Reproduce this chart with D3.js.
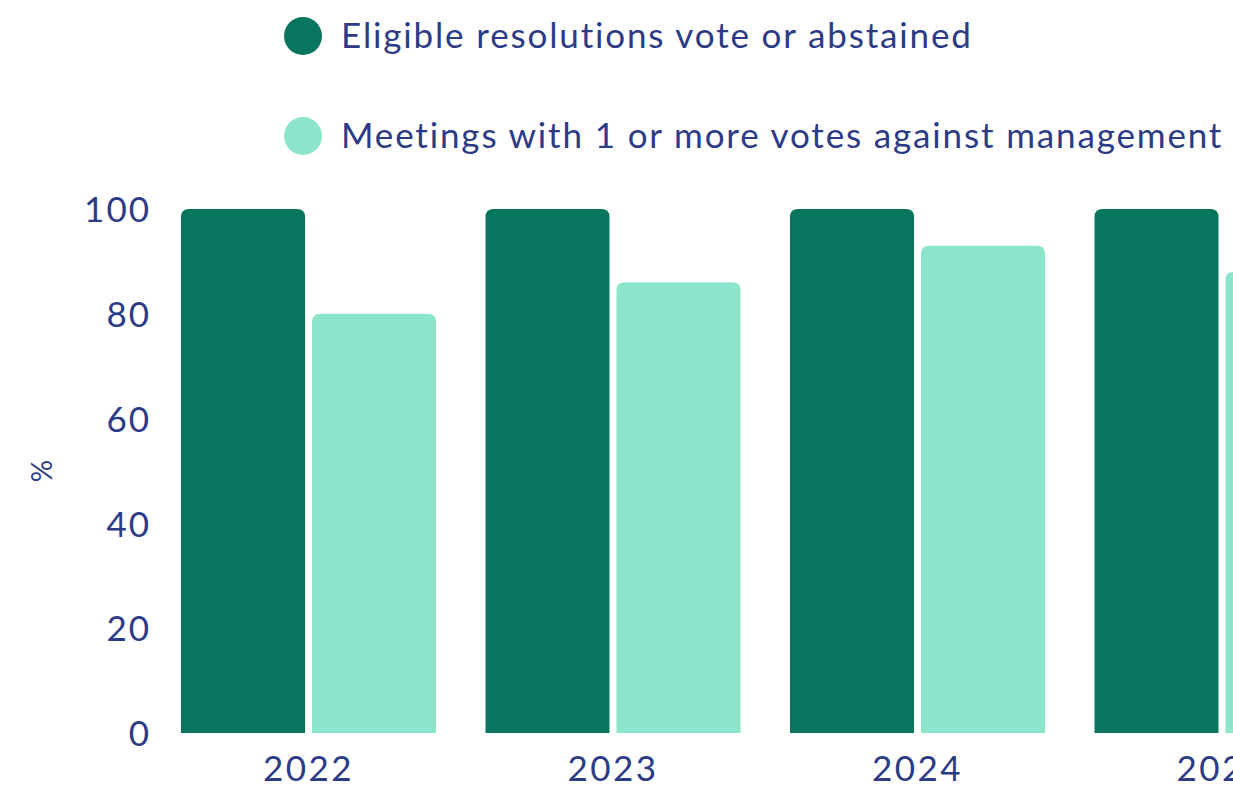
<!DOCTYPE html>
<html>
<head>
<meta charset="utf-8">
<script src="https://cdn.jsdelivr.net/npm/d3@7"></script>
<style>
  html, body { margin: 0; padding: 0; background: #fff; overflow: hidden; }
  svg { display: block; }
  text { font-family: Lato, "Open Sans", sans-serif; fill: #2c3b87; }
</style>
</head>
<body>
<svg id="chart" width="1233" height="787"></svg>
<script>
// Voting record by year
const years = ["2022", "2023", "2024", "2025"];
const seriesNames = ["Eligible resolutions vote or abstained", "Meetings with 1 or more votes against management"];
const eligibleVoted = [100, 100, 100, 100];
const meetingsAgainst = [80, 86, 93, 88];
const yTicks = [0, 20, 40, 60, 80, 100];
const colors = ["#08765f", "#8ce5cb"];

const rows = years.map((y, i) => ({ year: y, values: [eligibleVoted[i], meetingsAgainst[i]] }));

const svg = d3.select("#chart");

const y = d3.scaleLinear().domain([0, 100]).range([733, 209]);

const x = d3.scaleBand()
  .domain(years)
  .range([156.25, 156.25 + 4 * 304.5])
  .paddingInner(0.1626)
  .paddingOuter(0.0813);

const xs = d3.scaleBand()
  .domain([0, 1])
  .range([0, x.bandwidth()])
  .paddingInner(0.0534);

// bar with rounded top corners
function topRoundedRect(x0, y0, w, h, r) {
  r = Math.min(r, w / 2, h);
  return `M${x0},${y0 + h}V${y0 + r}Q${x0},${y0} ${x0 + r},${y0}H${x0 + w - r}Q${x0 + w},${y0} ${x0 + w},${y0 + r}V${y0 + h}Z`;
}

const groups = svg.append("g").selectAll("g")
  .data(rows)
  .join("g")
  .attr("transform", d => `translate(${x(d.year)},0)`);

groups.selectAll("path")
  .data(d => d.values.map((v, i) => ({ v, i })))
  .join("path")
  .attr("fill", d => colors[d.i])
  .attr("d", d => topRoundedRect(xs(d.i), y(d.v), xs.bandwidth(), y(0) - y(d.v), 8));

// y axis labels
const yAxis = svg.append("g")
  .attr("transform", "translate(151,0)")
  .call(d3.axisLeft(y).tickValues(yTicks).tickSize(0).tickPadding(0));
yAxis.select(".domain").remove();
yAxis.selectAll("text")
  .attr("font-size", 35)
  .attr("letter-spacing", 2)
  .attr("font-family", null)
  .attr("fill", null)
  .attr("dy", "0.36em");

svg.append("text")
  .attr("transform", "translate(41,471) rotate(-90)")
  .attr("text-anchor", "middle")
  .attr("dominant-baseline", "central")
  .attr("font-size", 28)
  .text("%");

// x axis labels
const xAxis = svg.append("g")
  .attr("transform", "translate(0,733)")
  .call(d3.axisBottom(x).tickSize(0).tickPadding(0));
xAxis.select(".domain").remove();
xAxis.selectAll("text")
  .attr("font-size", 35)
  .attr("letter-spacing", 2.5)
  .attr("font-family", null)
  .attr("fill", null)
  .attr("y", 48)
  .attr("dy", 0);

// legend
const legend = svg.append("g").selectAll("g")
  .data(seriesNames)
  .join("g")
  .attr("transform", (d, i) => `translate(303,${36 + i * 100})`);
legend.append("circle").attr("r", 19).attr("fill", (d, i) => colors[i]);
legend.append("text")
  .attr("x", 38)
  .attr("dy", "0.35em")
  .attr("font-size", 35)
  .attr("letter-spacing", 1.85)
  .text(d => d);
</script>
</body>
</html>
